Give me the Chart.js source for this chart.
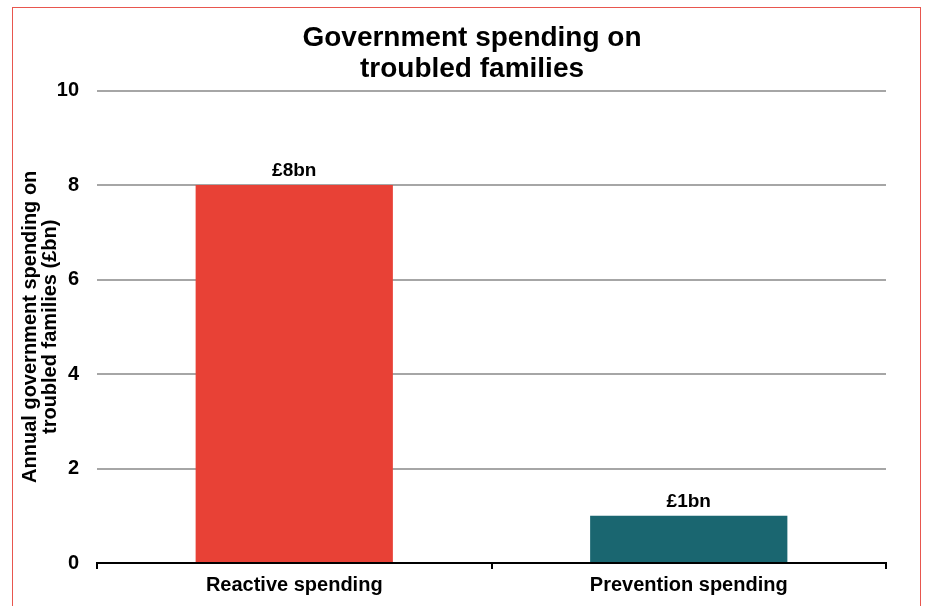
<!DOCTYPE html>
<html><head><meta charset="utf-8">
<script src="https://cdn.jsdelivr.net/npm/chart.js@4"></script>
<style>
html,body{margin:0;padding:0;background:#fff;overflow:hidden;}
#wrap{position:relative;width:925px;height:606px;}
#frame{position:absolute;left:12px;top:7px;width:909px;height:640px;border:1.5px solid #E8564E;box-sizing:border-box;pointer-events:none;}
</style></head>
<body>
<div id="wrap"><canvas id="c" width="925" height="606"></canvas><div id="frame"></div></div>
<script>
const categories = ["Reactive spending", "Prevention spending"];
const spending = [8, 1];
const valueLabels = ["£8bn", "£1bn"];
const barColors = ["#E84136", "#1A6670"];

const FONT = "'Liberation Sans', Arial, sans-serif";

const labelPlugin = {
  id: 'valueLabels',
  afterLayout(chart) {
    const t = chart.titleBlock;
    if (t) { t.left += 19; t.right += 19; }
  },
  afterDatasetsDraw(chart) {
    const ctx = chart.ctx;
    const meta = chart.getDatasetMeta(0);
    ctx.save();
    ctx.font = "bold 19px " + FONT;
    ctx.fillStyle = "#000";
    ctx.textAlign = "center";
    ctx.textBaseline = "alphabetic";
    meta.data.forEach((bar, i) => {
      ctx.fillText(valueLabels[i], bar.x, bar.y - 9);
    });
    ctx.restore();
  }
};

new Chart(document.getElementById('c'), {
  type: 'bar',
  data: {
    labels: categories,
    datasets: [{
      data: spending,
      backgroundColor: barColors,
      borderWidth: 0,
      barPercentage: 0.5,
      categoryPercentage: 1.0
    }]
  },
  options: {
    responsive: false,
    animation: false,
    layout: { padding: { left: 20, right: 39, top: 23, bottom: 5 } },
    plugins: {
      legend: { display: false },
      tooltip: { enabled: false },
      title: {
        display: true,
        text: ["Government spending on", "troubled families"],
        color: "#000",
        font: { family: FONT, size: 28, weight: 'bold', lineHeight: 1.1 },
        padding: { top: 0, bottom: 6 }
      }
    },
    scales: {
      x: {
        border: { display: true, color: "#000", width: 2 },
        grid: { display: true, drawOnChartArea: false, drawTicks: true, tickLength: 6, color: "#000", lineWidth: 2, offset: true },
        ticks: { color: "#000", font: { family: FONT, size: 20, weight: 'bold' }, padding: 4 }
      },
      y: {
        min: 0, max: 10,
        afterFit(scale) { scale.width = 77; },
        border: { display: false },
        grid: { color: "#A6A6A6", lineWidth: 2, drawTicks: false },
        ticks: { stepSize: 2, color: "#000", font: { family: FONT, size: 20, weight: 'bold' }, padding: 18 },
        title: {
          display: true,
          text: ["Annual government spending on", "troubled families (£bn)"],
          color: "#000",
          font: { family: FONT, size: 20, weight: 'bold', lineHeight: 1.0 },
          padding: { top: 0, bottom: 0 }
        }
      }
    }
  },
  plugins: [labelPlugin]
});
</script>
</body></html>
